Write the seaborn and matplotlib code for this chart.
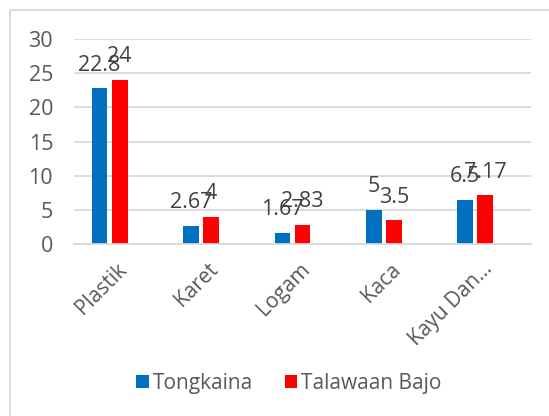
import pandas as pd
import matplotlib
matplotlib.use("Agg")
import matplotlib.pyplot as plt
import matplotlib.transforms as mtransforms
from matplotlib.lines import Line2D
import seaborn as sns

# --------------------------
# DATA
# --------------------------
categories = ["Plastik", "Karet", "Logam", "Kaca", "Kayu Dan…"]
tongkaina = [22.8, 2.67, 1.67, 5, 6.5]
talawaan_bajo = [24, 4, 2.83, 3.5, 7.17]
series_names = ["Tongkaina", "Talawaan Bajo"]
colors = ["#0070C0", "#FF0000"]

df = pd.DataFrame({
    "kategori": categories * 2,
    "nilai": tongkaina + talawaan_bajo,
    "lokasi": [series_names[0]] * len(categories) + [series_names[1]] * len(categories),
})

# --------------------------
# PLOT
# --------------------------
sns.set_style("white")
plt.rcParams["font.family"] = ["Open Sans", "DejaVu Sans"]

fig = plt.figure(figsize=(5.49, 4.16), dpi=100)
ax = fig.add_axes([74 / 549, 1 - 244 / 416, (530.7 - 74) / 549, (244 - 39) / 416])

sns.barplot(data=df, x="kategori", y="nilai", hue="lokasi", hue_order=series_names,
            palette=colors, width=0.438, gap=0.215, errorbar=None, saturation=1,
            linewidth=0, ax=ax, legend=True)

ax.set_xlim(-0.39, 4.606)
ax.set_ylim(0, 30)
ax.set_yticks(range(0, 31, 5))
ax.yaxis.grid(True, color="#D9D9D9", linewidth=1.3)
ax.set_axisbelow(True)
for side in ["top", "right", "left"]:
    ax.spines[side].set_visible(False)
ax.spines["bottom"].set_color("#D9D9D9")
ax.spines["bottom"].set_linewidth(1.3)
ax.set_xlabel("")
ax.set_ylabel("")

ax.tick_params(axis="y", length=0, pad=15, labelsize=15.5, labelcolor="#595959")
ax.tick_params(axis="x", length=0, pad=16, labelsize=15, labelcolor="#595959")
shift = mtransforms.ScaledTranslation(14 / 100, 0, fig.dpi_scale_trans)
for lab in ax.get_xticklabels():
    lab.set_rotation(45)
    lab.set_ha("right")
    lab.set_va("center")
    lab.set_rotation_mode("anchor")
    lab.set_transform(lab.get_transform() + shift)

# data labels
for cont, vals in zip(ax.containers, [tongkaina, talawaan_bajo]):
    ax.bar_label(cont, labels=[f"{v:g}" for v in vals], padding=9,
                 fontsize=15.5, color="#404040")

# legend at the bottom
handles, labels = ax.get_legend_handles_labels()
ax.legend(handles, labels, loc="center", bbox_to_anchor=(289 / 549, 1 - 383 / 416),
          bbox_transform=fig.transFigure, ncol=2, frameon=False, fontsize=15,
          handlelength=0.6, handleheight=0.6, handletextpad=0.2,
          columnspacing=1.5, labelcolor="#595959")

# chart border (top and left edges visible)
fig.add_artist(Line2D([10 / 549, 1], [1 - 10 / 416, 1 - 10 / 416],
                      transform=fig.transFigure, color="#D9D9D9", linewidth=1.3))
fig.add_artist(Line2D([10 / 549, 10 / 549], [0, 1 - 10 / 416],
                      transform=fig.transFigure, color="#D9D9D9", linewidth=1.3))

fig.savefig("out.png", dpi=100)
